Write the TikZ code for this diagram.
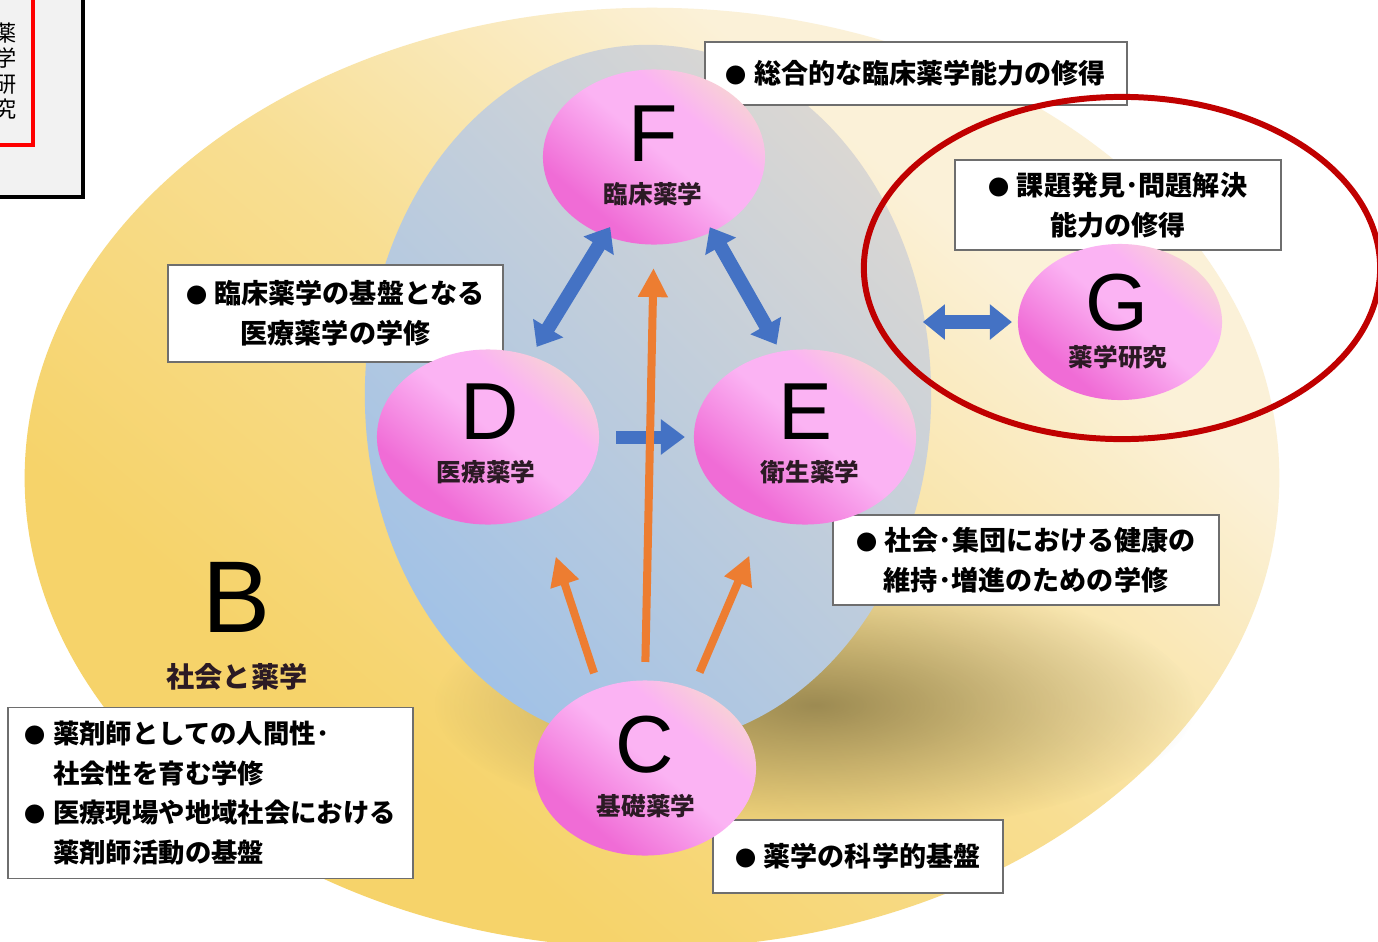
\documentclass[tikz,border=0pt]{standalone}
\usepackage{fontspec}
\setmainfont{Liberation Sans}
\newfontfamily\jp{Noto Sans CJK JP}
\usetikzlibrary{shapes.geometric,arrows.meta,fadings}
\definecolor{pkD}{HTML}{F06CD6}
\definecolor{pkM}{HTML}{FBB3F3}
\definecolor{pkL}{HTML}{F8CFD8}
\definecolor{coreB}{HTML}{A2C2E6}
\definecolor{coreG}{HTML}{DAD7D3}
\definecolor{yelS}{HTML}{F6D36A}
\definecolor{yelM}{HTML}{F8DE92}
\definecolor{yelP}{HTML}{FBF1D8}
\definecolor{arrB}{HTML}{4472C4}
\definecolor{arrO}{HTML}{ED7D31}
\definecolor{ovalR}{HTML}{C00000}
\definecolor{boxE}{HTML}{6E6E6E}
\definecolor{txt}{HTML}{2B1A24}
\definecolor{shadowC}{HTML}{76683A}
\definecolor{tlgray}{HTML}{F2F2F2}
\pgfdeclareverticalshading{pinkshade}{100bp}{color(0bp)=(pkD); color(30bp)=(pkD); color(52bp)=(pkM); color(64bp)=(pkM); color(75bp)=(pkL); color(100bp)=(pkL)}
\pgfdeclareverticalshading{yelshade}{100bp}{color(0bp)=(yelS); color(32bp)=(yelS); color(50bp)=(yelM); color(68bp)=(yelP); color(100bp)=(yelP)}
\tikzfading[name=softshadow, inner color=transparent!0, outer color=transparent!100]
\newcommand\bul{{\fontsize{6pt}{6pt}\selectfont ●}\hspace{2pt}}
\tikzset{
  ball/.style={ellipse, inner sep=0pt, outer sep=0pt, minimum width=22.2mm, minimum height=17.5mm, shade, shading=pinkshade, shading angle=-40},
  letter/.style={inner sep=0pt, text=black, font=\fontsize{23pt}{23pt}\selectfont},
  jlab/.style={inner sep=0pt, text=txt, font=\jp\bfseries\fontsize{7pt}{7pt}\selectfont},
  tbox/.style={draw=boxE, line width=0.5pt, fill=white, inner sep=0pt, align=center, text=black, font=\jp\bfseries\fontsize{7.7pt}{11.3pt}\selectfont},
  barrow/.style={draw=arrB, line width=1.4mm, {Triangle[width=3.4mm,length=2.2mm]}-{Triangle[width=3.4mm,length=2.2mm]}},
  barrowone/.style={draw=arrB, line width=1.3mm, -{Triangle[width=3.4mm,length=2.4mm]}},
  oarrow/.style={draw=arrO, line width=0.8mm, -{Triangle[width=2.8mm,length=2.9mm]}}
}
\begin{document}
\begin{tikzpicture}[x=0.01cm, y=-0.01cm]
\useasboundingbox (0,0) rectangle (1378,942);
\clip (0,0) rectangle (1378,942);
\fill[white] (0,0) rectangle (1378,942);
% top-left fragment
\fill[tlgray] (-20,-20) rectangle (83,197);
\draw[black, line width=0.9pt] (-20,-20) rectangle (83,197);
\draw[red, line width=1.4pt] (-20,-20) rectangle (33,145);
\node[inner sep=0pt, align=center, text=black, font=\jp\fontsize{6.3pt}{7.2pt}\selectfont] (tl) at (6,71) {薬\\学\\研\\究};
% big yellow field B
\node[ellipse, minimum width=125.4mm, minimum height=94mm, inner sep=0pt, shade, shading=yelshade, shading angle=-40] (Bfield) at (652,478) {};
% shadow
\fill[shadowC, opacity=0.7, path fading=softshadow] (815,705) ellipse [x radius=38mm, y radius=13mm];
% core ellipse
\node[ellipse, minimum width=56.6mm, minimum height=70mm, inner sep=0pt, top color=coreG, bottom color=coreB, shading angle=-45] (core) at (648,395) {};
% B label
\node[inner sep=0pt, text=black, font=\fontsize{29pt}{29pt}\selectfont] (Bl) at (237,597) {B};
\node[inner sep=0pt, text=txt, font=\jp\bfseries\fontsize{8pt}{8pt}\selectfont] (Bt) at (237,677) {社会と薬学};
% boxes
\node[tbox, minimum width=42.2mm, minimum height=6.3mm] (topbox) at (916,73.5) {\bul 総合的な臨床薬学能力の修得};
\node[tbox, minimum width=32.6mm, minimum height=9mm] (gbox) at (1118,205) {\bul 課題発見･問題解決\\能力の修得};
\node[tbox, minimum width=33.5mm, minimum height=9.7mm] (dbox) at (335.5,313.5) {\bul 臨床薬学の基盤となる\\医療薬学の学修};
\node[tbox, minimum width=38.6mm, minimum height=9mm] (ebox) at (1026,560) {\bul 社会･集団における健康の\\維持･増進のための学修};
\node[tbox, minimum width=29mm, minimum height=7.3mm] (cbox) at (858,856.5) {\bul 薬学の科学的基盤};
\node[tbox, minimum width=40.5mm, minimum height=17.1mm, align=left, font=\jp\bfseries\fontsize{7.5pt}{11.3pt}\selectfont] (bbox) at (210.5,793) {\bul 薬剤師としての人間性･\\\phantom{\bul}社会性を育む学修\\\bul 医療現場や地域社会における\\\phantom{\bul}薬剤師活動の基盤};
% balls
\node[ball] (F) at (654,157) {};
\node[ball] (D) at (488,437) {};
\node[ball] (E) at (805,437) {};
\node[ball] (C) at (645,768) {};
\node[ball, minimum width=20.4mm, minimum height=15.6mm] (G) at (1120,322) {};
\node[letter] (Fl) at (653,134) {F};
\node[jlab] (Ft) at (653,194) {臨床薬学};
\node[letter] (Dl) at (490,412) {D};
\node[jlab] (Dt) at (486,472) {医療薬学};
\node[letter] (El) at (805,412) {E};
\node[jlab] (Et) at (810,472) {衛生薬学};
\node[letter] (Cl) at (645,745) {C};
\node[jlab] (Ct) at (646,806) {基礎薬学};
\node[letter] (Gl) at (1117,303) {G};
\node[jlab] (Gt) at (1118,357) {薬学研究};
% blue arrows
\draw[barrow, shorten <=-1mm, shorten >=1.1mm] (F.-122) -- (D.62);
\draw[barrow, shorten <=-0.5mm, shorten >=0.8mm] (F.-52) -- (E.106);
\draw[barrowone, shorten <=1.7mm, shorten >=0.9mm] (D.east) -- (E.west);
\draw[barrow, shorten <=-0.9mm, shorten >=0.6mm] (G.west -| core.east) -- (G.west);
% orange arrows
\draw[oarrow, shorten <=1.85mm, shorten >=2.35mm] (C.north) -- (F.south);
\draw[oarrow, shorten <=1.6mm, shorten >=4.5mm] (C.120) -- (D.-55);
\draw[oarrow, shorten <=1.8mm, shorten >=4mm] (C.59) -- (E.-116);
% red oval around G
\draw[ovalR, line width=1.7pt] (1122,268) ellipse [x radius=25.8mm, y radius=17.1mm];
\end{tikzpicture}
\end{document}
